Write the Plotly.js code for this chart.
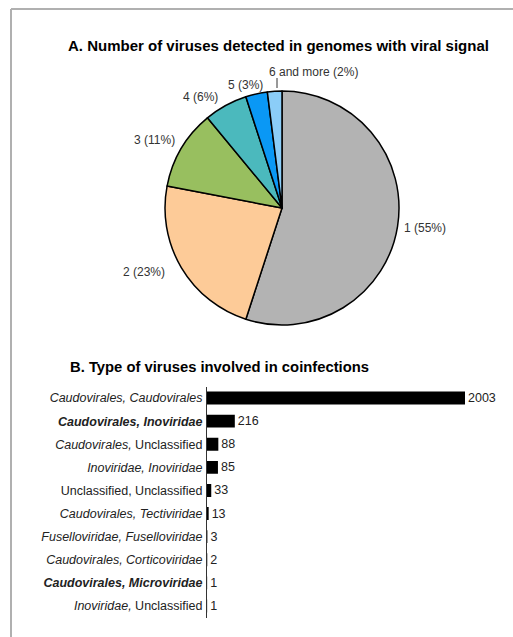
<!DOCTYPE html>
<html>
<head>
<meta charset="utf-8">
<script src="https://cdn.plot.ly/plotly-3.0.1.min.js"></script>
<style>
  html, body { margin: 0; padding: 0; background: #fff; }
  #chart { width: 513px; height: 637px; }
</style>
</head>
<body>
<div id="chart"></div>
<script>
// Panel A: number of viruses per genome (share of genomes, %)
const virusCounts = ['1', '2', '3', '4', '5', '6 and more'];
const genomeShare = [55, 23, 11, 6, 3, 2];
const sliceColors = ['#b3b3b3', '#fdcb98', '#98bf5f', '#4bb9bd', '#0a98f5', '#8bcdf8'];

// Panel B: pairs of virus taxa found together in one genome
const pairLabels = [
  '<i>Caudovirales, Caudovirales</i>',
  '<b><i>Caudovirales, Inoviridae</i></b>',
  '<i>Caudovirales,</i> Unclassified',
  '<i>Inoviridae, Inoviridae</i>',
  'Unclassified, Unclassified',
  '<i>Caudovirales, Tectiviridae</i>',
  '<i>Fuselloviridae, Fuselloviridae</i>',
  '<i>Caudovirales, Corticoviridae</i>',
  '<b><i>Caudovirales, Microviridae</i></b>',
  '<i>Inoviridae,</i> Unclassified'
];
const pairCounts = [2003, 216, 88, 85, 33, 13, 3, 2, 1, 1];

const W = 513, H = 637;
const px = x => x / W;
const py = y => 1 - y / H;

// slice label text, built from the data
const sliceText = virusCounts.map((c, i) => c + ' (' + genomeShare[i] + '%)');

// where each slice label sits around the pie (pixel anchor, alignment)
const labelPlacement = [
  { x: 402, y: 228, anchor: 'left' },
  { x: 167, y: 272, anchor: 'right' },
  { x: 177, y: 140, anchor: 'right' },
  { x: 200, y: 97,  anchor: 'center' },
  { x: 245, y: 85,  anchor: 'center' },
  { x: 267, y: 72,  anchor: 'left' }
];

const pie = {
  type: 'pie',
  labels: virusCounts,
  values: genomeShare,
  textinfo: 'none',
  sort: false,
  direction: 'clockwise',
  rotation: 0,
  marker: { colors: sliceColors, line: { color: '#000', width: 1.5 } },
  domain: { x: [px(165), px(399)], y: [py(325), py(91)] },
  showlegend: false,
  hoverinfo: 'label+value'
};

const bars = {
  type: 'bar',
  orientation: 'h',
  x: pairCounts,
  y: pairLabels,
  text: pairCounts.map(String),
  textposition: 'outside',
  constraintext: 'none',
  cliponaxis: false,
  textfont: { size: 12.5, color: '#222' },
  marker: { color: '#000' },
  width: 0.56,
  xaxis: 'x',
  yaxis: 'y',
  showlegend: false
};

const annotations = sliceText.map((t, i) => ({
  text: t,
  xref: 'paper', yref: 'paper',
  x: px(labelPlacement[i].x), y: py(labelPlacement[i].y),
  xanchor: labelPlacement[i].anchor, yanchor: 'middle',
  showarrow: false,
  font: { size: 12, color: '#333' }
}));

annotations.push(
  {
    text: '<b>A. Number of viruses detected in genomes with viral signal</b>',
    xref: 'paper', yref: 'paper', x: px(278), y: py(45),
    xanchor: 'center', yanchor: 'middle', showarrow: false,
    font: { size: 15, color: '#000' }
  },
  {
    text: '<b>B. Type of viruses involved in coinfections</b>',
    xref: 'paper', yref: 'paper', x: px(68), y: py(367),
    xanchor: 'left', yanchor: 'middle', showarrow: false,
    font: { size: 14.8, color: '#000' }
  }
);

const layout = {
  width: W,
  height: H,
  margin: { l: 0, r: 0, t: 0, b: 0 },
  paper_bgcolor: '#fff',
  plot_bgcolor: 'rgba(0,0,0,0)',
  font: { family: 'Liberation Sans, Arial, sans-serif', size: 13, color: '#222' },
  xaxis: {
    domain: [px(207), px(500)],
    range: [0, 2003 * 293 / 258],
    visible: false,
    fixedrange: true
  },
  yaxis: {
    domain: [py(617.5), py(386.5)],
    type: 'category',
    categoryorder: 'array',
    categoryarray: pairLabels,
    range: [9.5, -0.5],
    showgrid: false,
    zeroline: false,
    showline: true,
    linecolor: '#333',
    linewidth: 1,
    ticks: '',
    ticklabelstandoff: 1,
    tickfont: { size: 12.5, color: '#222' },
    fixedrange: true
  },
  annotations: annotations,
  shapes: [
    // figure frame: top and left rules
    { type: 'line', xref: 'paper', yref: 'paper', x0: px(11), x1: 1, y0: py(9), y1: py(9),
      line: { color: '#b0b0b0', width: 2 } },
    { type: 'line', xref: 'paper', yref: 'paper', x0: px(11), x1: px(11), y0: py(9), y1: 0,
      line: { color: '#b0b0b0', width: 2 } },
    // leader from the smallest slice to its label
    { type: 'line', xref: 'paper', yref: 'paper', x0: px(277), x1: px(277), y0: py(78), y1: py(88),
      line: { color: '#333', width: 1 } }
  ]
};

Plotly.newPlot('chart', [pie, bars], layout, { displayModeBar: false, staticPlot: true });
</script>
</body>
</html>
